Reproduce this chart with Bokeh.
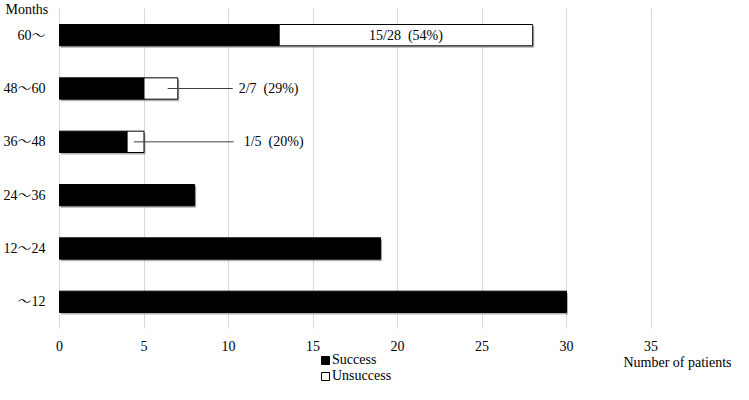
from bokeh.plotting import figure
from bokeh.models import (Range1d, FixedTicker, Legend, LegendItem, Label,
                          ColumnDataSource, LinearAxis, Grid)
from bokeh.core.properties import value
from bokeh.embed import file_html
from bokeh.resources import INLINE

# ---------------- data ----------------
categories = ["～12", "12～24", "24～36", "36～48", "48～60", "60～"]
success = [30, 19, 8, 4, 5, 13]
unsuccess = [0, 0, 0, 1, 2, 15]
x_ticks = [0, 5, 10, 15, 20, 25, 30, 35]
ann_inside_cat = ["60～"]
ann_inside_text = ["15/28\u00a0\u00a0(54%)"]
ann_side_cats = ["48～60", "36～48"]
ann_side_texts = ["2/7\u00a0\u00a0(29%)", "1/5\u00a0\u00a0(20%)"]

FONT = "'Liberation Serif', 'Times New Roman', 'Noto Serif CJK JP', 'Noto Sans CJK JP', serif"
FS = "14px"

W, H = 733, 384
# plotting area in figure pixels
FL, FR, FT, FB = 59, 735, 8, 328
XMAX = 40
px_x = (FR - FL) / XMAX
px_y = (FB - FT) / len(categories)

ypos = {c: i + 0.5 for i, c in enumerate(categories)}
total = [s + u for s, u in zip(success, unsuccess)]

p = figure(width=W, height=H,
           x_range=Range1d(-FL / px_x, XMAX - (FR - W) / px_x),
           y_range=Range1d(-(H - FB) / px_y, len(categories) + FT / px_y),
           output_backend="svg", toolbar_location=None,
           min_border=0, min_border_left=0, min_border_right=0,
           min_border_top=0, min_border_bottom=0,
           x_axis_location=None, y_axis_location=None)
p.outline_line_color = None
p.background_fill_color = "white"
for g in list(p.grid):
    g.visible = False

xaxis = LinearAxis(ticker=FixedTicker(ticks=x_ticks), fixed_location=0)
yaxis = LinearAxis(ticker=FixedTicker(ticks=[ypos[c] for c in categories]),
                   major_label_overrides={ypos[c]: c for c in categories},
                   fixed_location=0)
p.add_layout(xaxis, "below")
p.add_layout(yaxis, "left")
for ax in (xaxis, yaxis):
    ax.axis_line_color = None
    ax.major_tick_line_color = None
    ax.minor_tick_line_color = None
    ax.major_label_text_font = FONT
    ax.major_label_text_font_size = FS
    ax.major_label_text_color = "black"
xaxis.major_label_standoff = 6
yaxis.major_label_standoff = 8

xgrid = Grid(dimension=0, ticker=xaxis.ticker, grid_line_color="#d9d9d9",
             grid_line_width=1, cross_bounds=(0, len(categories)))
p.add_layout(xgrid)

# soft shadow under bars
shadow_src = ColumnDataSource(dict(y=[ypos[c] - 2 / px_y for c in categories],
                                   right=[t + 1.5 / px_x for t in total]))
p.hbar(y="y", left=1.5 / px_x, right="right",
       height=0.4, source=shadow_src, fill_color="#808080", fill_alpha=0.6,
       line_color=None)

src = ColumnDataSource(dict(y=[ypos[c] for c in categories], success=success, total=total))
r_s = p.hbar(y="y", left=0, right="success", height=0.4, source=src,
             fill_color="black", line_color="black", line_width=1)

u_y = [ypos[c] for c, u in zip(categories, unsuccess) if u > 0]
u_left = [s for s, u in zip(success, unsuccess) if u > 0]
u_right = [t for t, u in zip(total, unsuccess) if u > 0]
usrc = ColumnDataSource(dict(y=u_y, left=u_left, right=u_right))
r_u = p.hbar(y="y", left="left", right="right", height=0.4, source=usrc,
             fill_color="white", line_color="black", line_width=1)

# annotations
idx = categories.index(ann_inside_cat[0])
p.text(x=[success[idx] + unsuccess[idx] / 2], y=[ypos[c] for c in ann_inside_cat],
       text=ann_inside_text, text_font=value(FONT), text_font_size=FS,
       text_align="center", text_baseline="middle", text_color="black")

side_y = [ypos[c] for c in ann_side_cats]
p.segment(x0=[6.4, 4.4], y0=side_y, x1=[10.25, 10.3], y1=side_y,
          line_color="#404040", line_width=1)
p.text(x=[10.6, 10.9], y=side_y, text=ann_side_texts,
       text_font=value(FONT), text_font_size=FS, text_align="left",
       text_baseline="middle", text_color="black")

p.add_layout(Label(x=5, y=H - 1, x_units="screen", y_units="screen", text="Months",
                   text_font=FONT, text_font_size=FS, text_baseline="top",
                   text_align="left", text_color="black"))
p.add_layout(Label(x=W - 2, y=H - 362, x_units="screen", y_units="screen",
                   text="Number of patients", text_font=FONT, text_font_size=FS,
                   text_baseline="middle", text_align="right", text_color="black"))

legend = Legend(items=[LegendItem(label="Success", renderers=[r_s]),
                       LegendItem(label="Unsuccess", renderers=[r_u])],
                location=(320, 0), orientation="vertical",
                glyph_width=10, glyph_height=10, label_height=13,
                label_standoff=2, spacing=-4, padding=0, margin=0,
                border_line_color=None, background_fill_alpha=0,
                label_text_font=FONT, label_text_font_size=FS,
                label_text_color="black")
p.add_layout(legend)

open("out.html", "w").write(file_html(p, INLINE))
